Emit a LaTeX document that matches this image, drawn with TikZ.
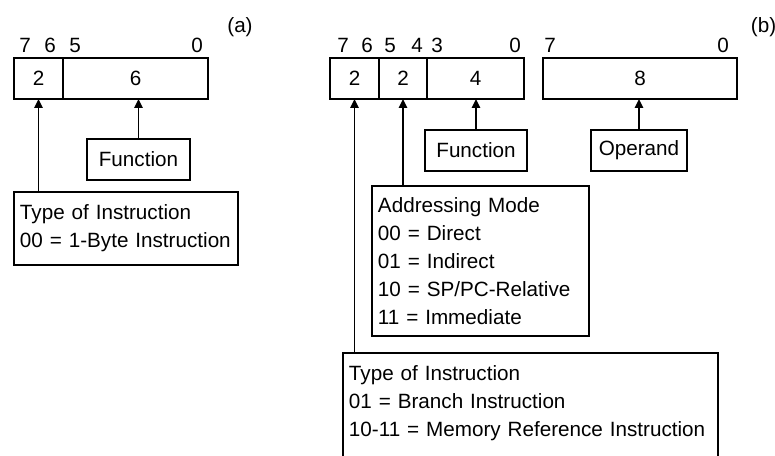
\documentclass[tikz,border=0pt]{standalone}
\usepackage{fontspec}
\setmainfont{Liberation Sans}
\usetikzlibrary{arrows.meta,positioning}

\begin{document}
\begin{tikzpicture}[>={Triangle[length=0.22cm,width=0.2cm]}, line width=1.4pt,
  font=\fontsize{14.7}{19.9}\selectfont,
  field/.style={draw, inner sep=0pt, outer sep=0pt, minimum height=1.025cm, anchor=south west},
  label/.style={draw, inner sep=0pt, minimum height=1.025cm},
  textbox/.style={draw, align=left, inner xsep=0.15cm, anchor=north west},
  bit/.style={inner sep=0pt}]

\useasboundingbox (0,0) rectangle (19.375,11.375);

% ---- (a) one-byte format ----
\node[field, minimum width=1.225cm] (a76) at (0.35,8.9) {2};
\node[field, minimum width=3.625cm, right=0pt of a76.south east, anchor=south west] (a50) {6};
\foreach \x/\lab [count=\i] in {0.625/7, 1.25/6, 1.875/5, 4.925/0} {
  \node[bit] (abit\i) at (\x,10.25) {\lab};
}
\node[bit] (alab) at (6.0,10.7) {(a)};

\node[label, minimum width=2.575cm] (funa) at (3.4625,7.3875) {Function};
\node[textbox, text width=5.3cm, minimum height=1.825cm] (typea) at (0.325,6.6)
  {\mbox{Type of Instruction}\\\mbox{00 = 1-Byte Instruction}};

\draw[->] (funa.north) -- (funa.north |- a50.south);
\draw[->] (typea.north -| a76.south) -- (a76.south);

% ---- (b) two-byte format ----
\node[field, minimum width=1.225cm] (b76) at (8.25,8.9) {2};
\node[field, minimum width=1.2cm, right=0pt of b76.south east, anchor=south west] (b54) {2};
\node[field, minimum width=2.425cm, right=0pt of b54.south east, anchor=south west] (b30) {4};
\node[field, minimum width=4.85cm] (opnd) at (13.575,8.9) {8};
\foreach \x/\lab [count=\i] in {8.575/7, 9.175/6, 9.75/5, 10.425/4, 10.925/3, 12.875/0, 13.75/7, 18.075/0} {
  \node[bit] (bbit\i) at (\x,10.25) {\lab};
}
\node[bit, anchor=west] (blab) at (18.75,10.7) {(b)};

\node[label, minimum width=2.55cm] (funb) at (11.9,7.6125) {Function};
\node[label, minimum width=2.4cm] (oper) at (15.975,7.6125) {Operand};
\node[textbox, text width=5.125cm, minimum height=3.75cm] (mode) at (9.275,6.75)
  {Addressing Mode\\00 = Direct\\01 = Indirect\\\mbox{10 = SP/PC-Relative}\\11 = Immediate};
\node[textbox, text width=9.075cm, inner ysep=0.32cm] (typeb) at (8.55,2.575)
  {Type of Instruction\\01 = Branch Instruction\\\mbox{10-11 = Memory Reference Instruction}\\ \mbox{}};

\draw[->] (funb.north) -- (funb.north |- b30.south);
\draw[->] (oper.north) -- (oper.north |- opnd.south);
\draw[->] (mode.north -| b54.south) -- (b54.south);
\draw[->] (typeb.north -| b76.south) -- (b76.south);

\end{tikzpicture}
\end{document}
